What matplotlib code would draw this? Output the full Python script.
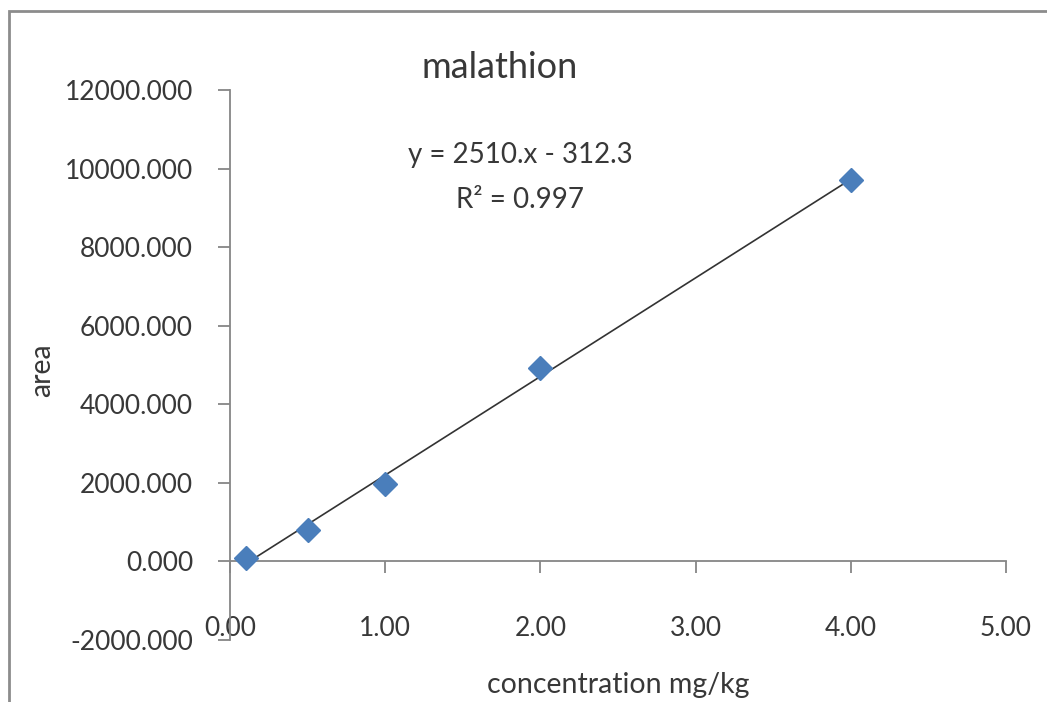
import numpy as np
import matplotlib
matplotlib.use("Agg")
import matplotlib.pyplot as plt
from matplotlib.patches import Rectangle

# data
conc = [0.1, 0.5, 1.0, 2.0, 4.0]
area = [100, 790, 1960, 4920, 9700]
slope = 2510.0
intercept = -312.3
r2 = 0.997

xticks = [0, 1, 2, 3, 4, 5]
yticks = [-2000, 0, 2000, 4000, 6000, 8000, 10000, 12000]

plt.rcParams['font.family'] = ['Lato', 'DejaVu Sans']
txt = '#383838'
axc = '#868686'

fig = plt.figure(figsize=(10.47, 7.02), dpi=100)
W, H = 1047, 702
ax = fig.add_axes([230 / W, 1 - 640 / H, (1006 - 230) / W, (640 - 90) / H])

# trendline from the fitted equation
xl = np.array([conc[0], conc[-1]])
ax.plot(xl, slope * xl + intercept, color='#333333', lw=1.2, zorder=2)
ax.plot(conc, area, linestyle='none', marker='D', markersize=12,
        color='#4a7ebb', markeredgecolor='#4a7ebb', zorder=3)

ax.set_xlim(0, 5)
ax.set_ylim(-2000, 12000)
ax.set_xticks(xticks)
ax.set_yticks(yticks)
ax.set_yticklabels(['%.3f' % v for v in yticks])

for s in ['top', 'right']:
    ax.spines[s].set_visible(False)
ax.spines['bottom'].set_position(('data', 0))
ax.spines['left'].set_color(axc)
ax.spines['bottom'].set_color(axc)
ax.spines['left'].set_linewidth(1.3)
ax.spines['bottom'].set_linewidth(1.3)
ax.tick_params(axis='x', direction='out', length=8.6, width=1.3, color=axc,
               labelbottom=False)
ax.tick_params(axis='y', direction='out', length=8.6, width=1.3, color=axc,
               pad=18, labelsize=19, labelcolor=txt)

# x tick labels sit at the bottom of the plot area (Excel "low" position)
sec = ax.secondary_xaxis(0)
sec.set_xticks(xticks)
sec.set_xticklabels(['%.2f' % v for v in xticks])
sec.spines['bottom'].set_visible(False)
sec.tick_params(length=0, pad=-17, labelsize=19, labelcolor=txt)

fig.text(500 / W, 1 - 68 / H, 'malathion', ha='center', va='center',
         fontsize=26, color=txt)
fig.text(520 / W, 1 - 155 / H, 'y = 2510.x - 312.3', ha='center', va='center',
         fontsize=20, color=txt)
fig.text(520 / W, 1 - 200 / H, 'R² = %.3f' % r2, ha='center', va='center',
         fontsize=20, color=txt)
fig.text(618 / W, 1 - 685 / H, 'concentration mg/kg', ha='center', va='center',
         fontsize=20.5, color=txt)
fig.text(42 / W, 1 - 370 / H, 'area', ha='center', va='center', rotation=90,
         fontsize=20.5, color=txt)

# chart border (only left and top edges are inside the crop)
fig.patches.append(Rectangle((9 / W, -0.1), 1.2, 1.1 - 11 / H, fill=False,
                             edgecolor='#8c8c8c', lw=2,
                             transform=fig.transFigure, figure=fig))

fig.savefig('out.png', dpi=100)
